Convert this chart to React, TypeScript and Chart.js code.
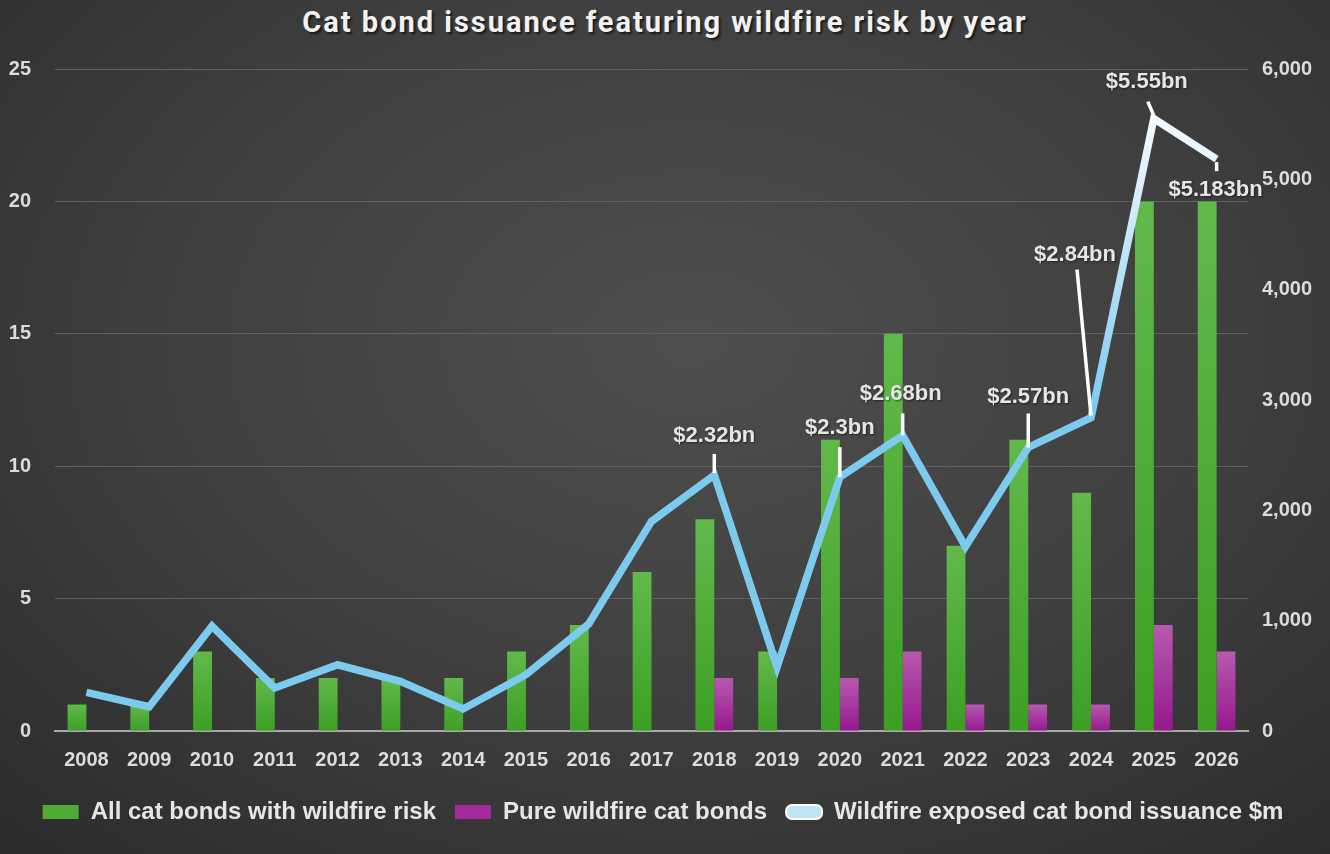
import React, { useEffect, useRef } from 'react';
import { Chart, registerables } from 'chart.js';

Chart.register(...registerables);

const years = ['2008', '2009', '2010', '2011', '2012', '2013', '2014', '2015', '2016', '2017', '2018', '2019', '2020', '2021', '2022', '2023', '2024', '2025', '2026'];
const allWildfireBonds = [1, 1, 3, 2, 2, 2, 2, 3, 4, 6, 8, 3, 11, 15, 7, 11, 9, 20, 20];
const pureWildfireBonds = [0, 0, 0, 0, 0, 0, 0, 0, 0, 0, 2, 0, 2, 3, 1, 1, 1, 4, 3];
const exposedIssuance = [350, 220, 950, 390, 600, 450, 200, 510, 970, 1900, 2320, 580, 2300, 2680, 1670, 2570, 2840, 5550, 5183];
const issuanceLabels = ['', '', '', '', '', '', '', '', '', '', '$2.32bn', '', '$2.3bn', '$2.68bn', '', '$2.57bn', '$2.84bn', '$5.55bn', '$5.183bn'];

const FONT = '"Liberation Sans", Arial, sans-serif';

// where each label sits relative to its point, and its leader line
const labelPlacement: Record<number, { dx: number; dy: number; l1: [number, number]; l2: [number, number] }> = {
  10: { dx: 0, dy: -39, l1: [0, -21], l2: [0, -2] },
  12: { dx: 0, dy: -49, l1: [0, -30], l2: [0, 0] },
  13: { dx: -2, dy: -41, l1: [0, -22], l2: [0, 0] },
  15: { dx: 0, dy: -51, l1: [0, -34], l2: [0, 0] },
  16: { dx: -16, dy: -163, l1: [-14, -148], l2: [0, -2] },
  17: { dx: -7, dy: -37, l1: [-6, -17], l2: [0, -3] },
  18: { dx: -1, dy: 31, l1: [0, 3], l2: [0, 12] },
};

const labelPlugin = {
  id: 'issuanceLabels',
  afterDatasetsDraw(chart: any) {
    const meta = chart.getDatasetMeta(2);
    const ctx = chart.ctx;
    ctx.save();
    ctx.font = `bold 22px ${FONT}`;
    ctx.textAlign = 'center';
    ctx.textBaseline = 'middle';
    meta.data.forEach((pt: any, i: number) => {
      const text = issuanceLabels[i];
      const p = labelPlacement[i];
      if (!text || !p) return;
      ctx.strokeStyle = '#ffffff';
      ctx.lineWidth = 3.5;
      ctx.beginPath();
      ctx.moveTo(pt.x + p.l1[0], pt.y + p.l1[1]);
      ctx.lineTo(pt.x + p.l2[0], pt.y + p.l2[1]);
      ctx.stroke();
      ctx.shadowColor = 'rgba(0,0,0,0.5)';
      ctx.shadowOffsetX = 1;
      ctx.shadowOffsetY = 1;
      ctx.shadowBlur = 2;
      ctx.fillStyle = '#e6e6e6';
      ctx.fillText(text, pt.x + p.dx, pt.y + p.dy);
      ctx.shadowColor = 'transparent';
    });
    ctx.restore();
  },
};

function barGradient(top: string, bottom: string) {
  return (context: any) => {
    const chart = context.chart;
    const scale = chart.scales.y;
    if (!chart.chartArea || !scale || context.parsed == null) return bottom;
    const y0 = scale.getPixelForValue(0);
    const y1 = scale.getPixelForValue(context.parsed.y || 0.0001);
    if (!isFinite(y0) || !isFinite(y1) || y0 === y1) return bottom;
    const g = chart.ctx.createLinearGradient(0, y1, 0, y0);
    g.addColorStop(0, top);
    g.addColorStop(1, bottom);
    return g;
  };
}

function lineGradient(context: any) {
  const chart = context.chart;
  const scale = chart.scales.y1;
  if (!chart.chartArea || !scale) return '#7ccaee';
  const g = chart.ctx.createLinearGradient(0, scale.getPixelForValue(2900), 0, scale.getPixelForValue(5500));
  g.addColorStop(0, '#7ccaee');
  g.addColorStop(1, '#f4faff');
  return g;
}

const App: React.FC = () => {
  const chartRef = useRef<HTMLCanvasElement>(null);
  const chartInstance = useRef<Chart | null>(null);

  useEffect(() => {
    document.body.style.margin = '0';
    if (!chartRef.current) return;
    const ctx = chartRef.current.getContext('2d');
    if (!ctx) return;
    if (chartInstance.current) chartInstance.current.destroy();

    const tickFont = { family: FONT, size: 20, weight: 'bold' as const };

    chartInstance.current = new Chart(ctx, {
      type: 'bar',
      data: {
        labels: years,
        datasets: [
          {
            label: 'All cat bonds with wildfire risk',
            data: allWildfireBonds,
            backgroundColor: barGradient('#62b94b', '#3c9f24'),
            yAxisID: 'y',
            order: 1,
          },
          {
            label: 'Pure wildfire cat bonds',
            data: pureWildfireBonds,
            backgroundColor: barGradient('#b75aaf', '#96188e'),
            yAxisID: 'y',
            order: 1,
          },
          {
            type: 'line',
            label: 'Wildfire exposed cat bond issuance $m',
            data: exposedIssuance,
            borderColor: lineGradient,
            backgroundColor: '#7ccaee',
            borderWidth: 7.5,
            pointRadius: 0,
            tension: 0,
            borderJoinStyle: 'miter',
            yAxisID: 'y1',
            order: 0,
          } as any,
        ],
      },
      options: {
        responsive: true,
        maintainAspectRatio: false,
        animation: false,
        datasets: {
          bar: { categoryPercentage: 0.6, barPercentage: 1 },
        },
        layout: { padding: { top: 69, left: 8, right: 12, bottom: 20 } },
        scales: {
          x: {
            grid: { display: false },
            border: { color: '#a8a8a8', width: 2 },
            ticks: { font: tickFont, color: '#dcdcdc', padding: 9 },
          },
          y: {
            position: 'left',
            min: 0,
            max: 25,
            ticks: { stepSize: 5, font: tickFont, color: '#dcdcdc', padding: 24 },
            grid: {
              color: (c: any) => (c.tick && c.tick.value === 0 ? 'transparent' : '#616161'),
              lineWidth: 1,
              drawTicks: false,
            },
            border: { display: false },
            afterFit: (scale: any) => {
              scale.width = 47;
            },
          },
          y1: {
            position: 'right',
            min: 0,
            max: 6000,
            ticks: {
              stepSize: 1000,
              font: tickFont,
              color: '#dcdcdc',
              padding: 14,
              callback: (v: any) => Number(v).toLocaleString('en-US'),
            },
            grid: { display: false, drawTicks: false },
            border: { display: false },
            afterFit: (scale: any) => {
              scale.width = 70;
            },
          },
        },
        plugins: {
          legend: {
            position: 'bottom',
            labels: {
              boxWidth: 36,
              boxHeight: 14,
              padding: 19,
              color: '#e6e6e6',
              useBorderRadius: true,
              font: { family: FONT, size: 24, weight: 'bold' },
              generateLabels: (chart: any) =>
                chart.data.datasets.map((ds: any, i: number) => ({
                  text: ds.label,
                  fillStyle: i === 0 ? '#4fab36' : i === 1 ? '#a42b9e' : '#bfe4f6',
                  strokeStyle: i === 2 ? '#ffffff' : 'transparent',
                  lineWidth: i === 2 ? 2 : 0,
                  borderRadius: i === 2 ? 6 : 0,
                  fontColor: '#e6e6e6',
                  hidden: false,
                  datasetIndex: i,
                })),
            },
          },
          title: { display: false },
          tooltip: { enabled: false },
        },
      },
      plugins: [labelPlugin],
    });

    return () => {
      if (chartInstance.current) {
        chartInstance.current.destroy();
        chartInstance.current = null;
      }
    };
  }, []);

  return (
    <div
      style={{
        position: 'absolute',
        left: 0,
        top: 0,
        width: 1330,
        height: 854,
        background: 'radial-gradient(ellipse 75% 80% at 52% 40%, #4e4e4e 0%, #404040 50%, #2c2c2c 100%)',
        overflow: 'hidden',
      }}
    >
      <div
        style={{
          position: 'absolute',
          top: 5,
          left: 0,
          width: '100%',
          textAlign: 'center',
          fontFamily: 'Roboto, "Liberation Sans", sans-serif',
          fontWeight: 700,
          fontSize: 29,
          letterSpacing: '2px',
          color: '#f2f2f2',
          textShadow: '2px 2px 2px rgba(0,0,0,0.6)',
        }}
      >
        Cat bond issuance featuring wildfire risk by year
      </div>
      <div style={{ position: 'absolute', left: 0, top: 0, width: 1330, height: 854 }}>
        <canvas ref={chartRef} />
      </div>
    </div>
  );
};

export default App;
